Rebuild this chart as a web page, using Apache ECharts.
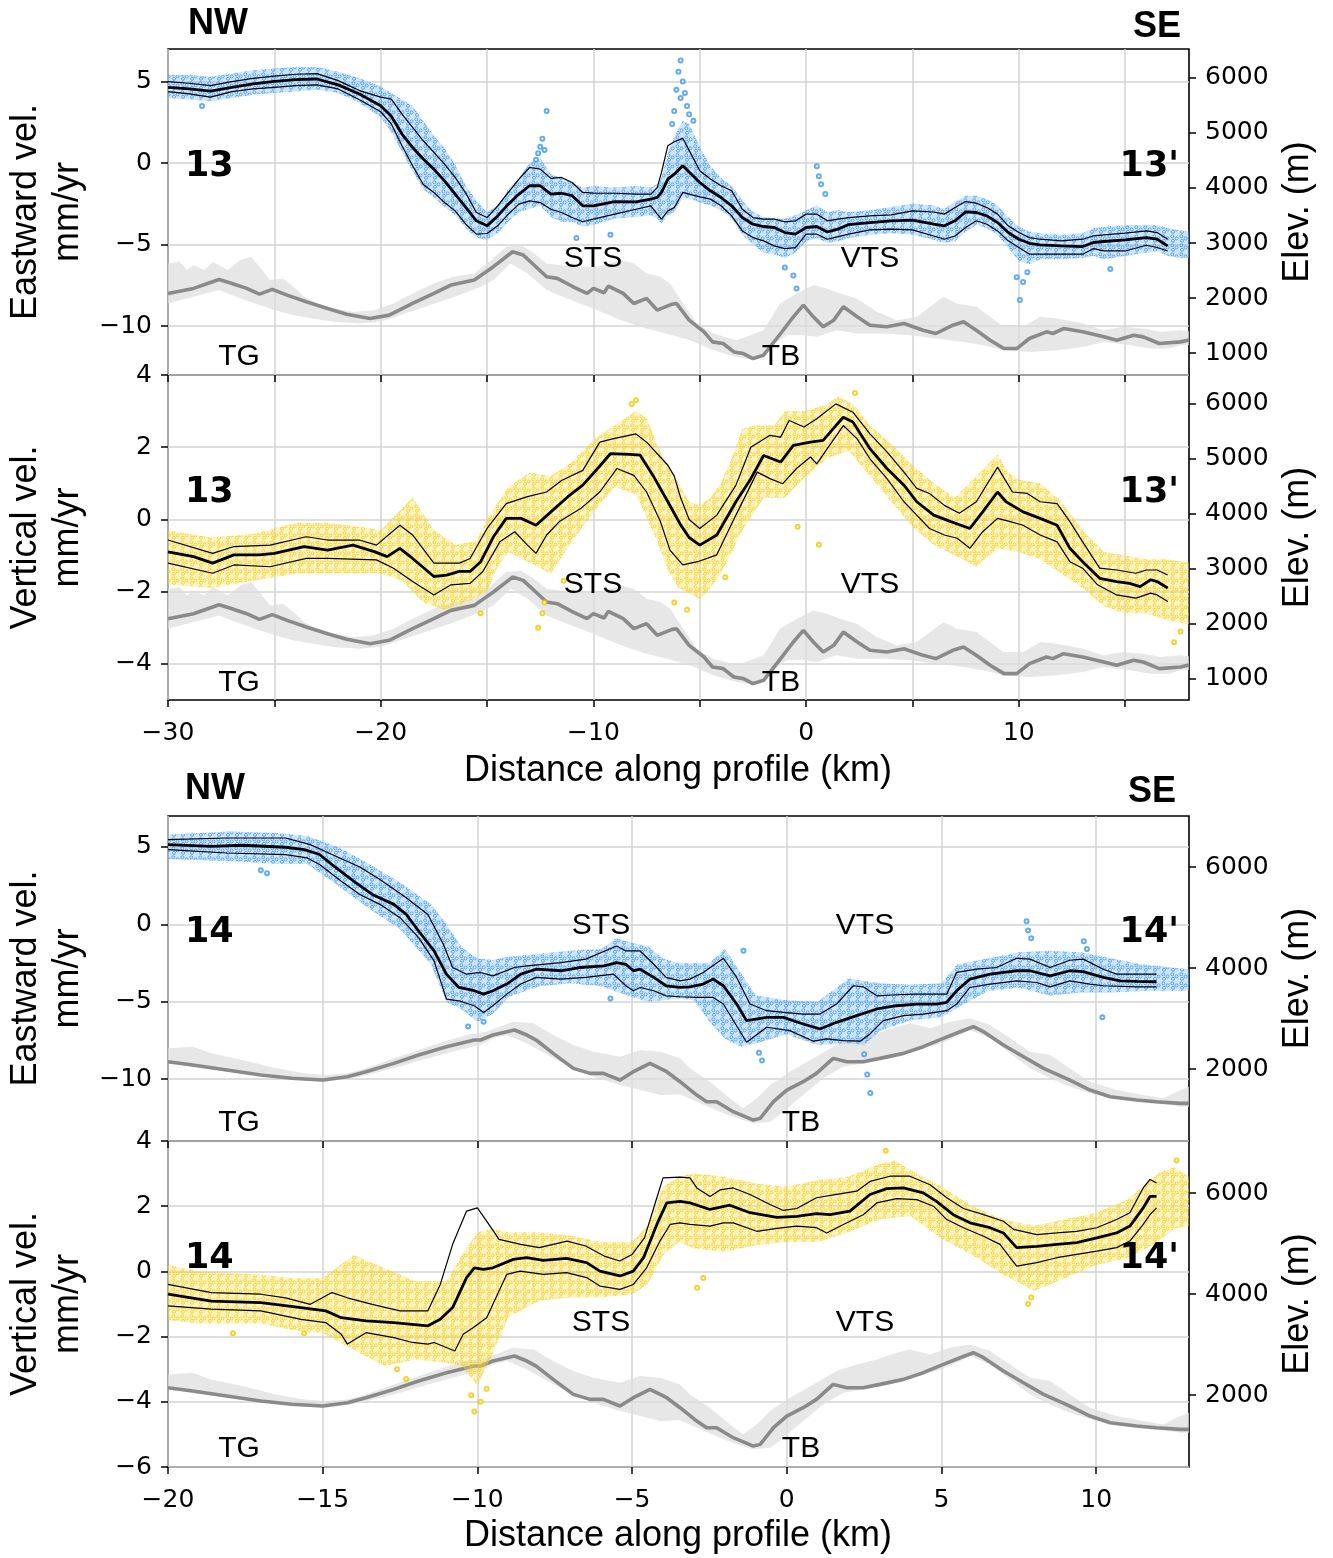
<!DOCTYPE html>
<html><head><meta charset="utf-8">
<script src="https://cdn.jsdelivr.net/npm/echarts@6.0.0/dist/echarts.min.js"></script>
<style>html,body{margin:0;padding:0;background:#fff}#c{width:1333px;height:1558px}</style>
</head><body><div id="c"></div>
<script>
// ---------------- DATA ----------------
const X13_TICKS = [-30,-25,-20,-15,-10,-5,0,5,10,15];
const X13_LABELS = [-30,-20,-10,0,10];
const X14_TICKS = [-20,-15,-10,-5,0,5,10];
const X14_LABELS = [-20,-15,-10,-5,0,5,10];
const Y_E13_TICKS = [-10,-5,0,5];
const Y_V13_TICKS = [-4,-2,0,2,4];
const Y_E14_TICKS = [-10,-5,0,5];
const Y_V14_TICKS = [-6,-4,-2,0,2,4];
const ELEV13_TICKS = [1000,2000,3000,4000,5000,6000];
const ELEV14_TICKS = [2000,4000,6000];

// Panel 1: eastward velocity, profile 13 (mm/yr)
const E13_MEAN = [[-30,4.65],[-29,4.55],[-28,4.42],[-27,4.65],[-26,4.86],[-25,5.02],[-24,5.12],[-23,5.16],[-22,4.8],[-21,4.24],[-20,3.52],[-19.5,2.87],[-19,1.78],[-18.5,0.96],[-18,0.25],[-17.5,-0.37],[-17,-1.09],[-16.5,-1.9],[-16,-2.72],[-15.5,-3.54],[-15,-3.85],[-14.5,-3.24],[-14,-2.52],[-13.5,-1.9],[-13,-1.39],[-12.5,-1.39],[-12,-1.9],[-11.5,-1.85],[-11,-2.0],[-10.5,-2.62],[-10,-2.62],[-9,-2.36],[-8,-2.38],[-7.3,-2.21],[-7,-2.1],[-6.8,-1.8],[-6.5,-0.98],[-6.2,-0.68],[-5.8,-0.16],[-5.5,-0.55],[-5,-1.19],[-4.5,-1.7],[-4,-2.11],[-3.5,-2.62],[-3,-3.34],[-2.5,-3.75],[-2,-3.89],[-1.5,-3.95],[-1,-4.26],[-0.5,-4.36],[0,-3.95],[0.5,-3.89],[1,-4.22],[1.5,-4.05],[2,-3.77],[3,-3.65],[4,-3.54],[5,-3.5],[6,-3.75],[6.5,-3.85],[7,-3.54],[7.5,-2.99],[8,-3.03],[8.5,-3.24],[9,-3.65],[9.5,-4.26],[10,-4.67],[10.5,-4.92],[11,-5.02],[12,-5.08],[13,-5.12],[13.5,-4.87],[14,-4.81],[15,-4.71],[16,-4.57],[16.5,-4.67],[17,-5.08]];
const E13_UP = [[-30,5.0],[-29,4.9],[-28,4.75],[-27,5.0],[-26,5.2],[-25,5.33],[-24,5.45],[-23,5.49],[-22,5.06],[-21,4.45],[-20,4.05],[-19.5,3.93],[-19,3.0],[-18.5,2.19],[-18,1.37],[-17.5,0.66],[-17,-0.06],[-16.5,-0.88],[-16,-1.84],[-15.5,-3.03],[-15,-3.34],[-14.5,-2.62],[-14,-1.8],[-13.5,-0.98],[-13,-0.27],[-12.5,-0.37],[-12,-0.94],[-11.5,-0.88],[-11,-1.19],[-10.5,-1.8],[-10,-1.84],[-9,-1.85],[-8,-1.9],[-7.3,-1.9],[-7,-1.5],[-6.8,-0.57],[-6.5,1.07],[-6.2,1.31],[-5.8,1.52],[-5.5,0.78],[-5,-0.47],[-4.5,-0.98],[-4,-1.39],[-3.5,-1.7],[-3,-2.83],[-2.5,-3.34],[-2,-3.44],[-1.5,-3.44],[-1,-3.6],[-0.5,-3.54],[0,-3.13],[0.5,-3.13],[1,-3.54],[1.5,-3.44],[2,-3.34],[3,-3.24],[4,-3.18],[5,-2.93],[6,-3.0],[6.5,-3.13],[7,-2.73],[7.5,-2.36],[8,-2.46],[8.5,-2.73],[9,-3.13],[9.5,-3.85],[10,-4.26],[10.5,-4.57],[11,-4.67],[12,-4.77],[13,-4.67],[13.5,-4.47],[14,-4.4],[15,-4.3],[16,-4.16],[16.5,-4.26],[17,-4.67]];
const E13_LO = [[-30,4.38],[-29,4.25],[-28,4.05],[-27,4.38],[-26,4.55],[-25,4.65],[-24,4.75],[-23,4.8],[-22,4.55],[-21,3.89],[-20,3.15],[-19.5,2.4],[-19,1.07],[-18.5,-0.16],[-18,-1.31],[-17.5,-1.8],[-17,-2.42],[-16.5,-2.93],[-16,-3.75],[-15.5,-4.36],[-15,-4.32],[-14.5,-3.85],[-14,-3.13],[-13.5,-2.52],[-13,-2.32],[-12.5,-2.42],[-12,-2.83],[-11.5,-3.03],[-11,-3.34],[-10.5,-3.6],[-10,-3.44],[-9,-3.13],[-8,-2.83],[-7.3,-2.62],[-7,-3.13],[-6.8,-3.44],[-6.5,-2.93],[-6.2,-2.73],[-5.8,-1.8],[-5.5,-1.9],[-5,-2.07],[-4.5,-2.21],[-4,-2.62],[-3.5,-3.24],[-3,-4.16],[-2.5,-4.57],[-2,-4.77],[-1.5,-5.08],[-1,-5.25],[-0.5,-5.18],[0,-4.36],[0.5,-4.36],[1,-4.67],[1.5,-4.51],[2,-4.36],[3,-4.1],[4,-4.05],[5,-4.1],[6,-4.47],[6.5,-4.67],[7,-4.47],[7.5,-3.95],[8,-3.54],[8.5,-3.75],[9,-4.16],[9.5,-4.77],[10,-5.18],[10.5,-5.59],[11,-5.59],[12,-5.59],[13,-5.59],[13.5,-5.25],[14,-5.39],[15,-5.39],[16,-5.04],[16.5,-5.18],[17,-5.39]];
const E13_SC_UP = [[-30,5.4],[-29,5.4],[-28,5.3],[-27,5.5],[-26,5.7],[-25,5.8],[-24,5.9],[-23,5.9],[-22,5.6],[-21,5.2],[-20,4.7],[-19.5,4.3],[-19,3.9],[-18.5,3.5],[-18,2.6],[-17.5,1.7],[-17,0.9],[-16.5,-0.1],[-16,-1.4],[-15.5,-2.3],[-15,-3.0],[-14.5,-2.6],[-14,-1.6],[-13.5,-0.9],[-13,0.0],[-12.5,0.3],[-12,-0.7],[-11.5,-0.9],[-11,-1.2],[-10.5,-1.5],[-10,-1.4],[-9,-1.5],[-8,-1.4],[-7.3,-1.5],[-7,-1.3],[-6.8,-0.9],[-6.5,0.6],[-6.2,1.6],[-5.8,2.6],[-5.5,2.4],[-5,1.0],[-4.5,-0.2],[-4,-0.9],[-3.5,-1.4],[-3,-2.3],[-2.5,-3.0],[-2,-3.3],[-1.5,-3.4],[-1,-3.4],[-0.5,-3.2],[0,-2.9],[0.5,-2.6],[1,-3.0],[1.5,-2.9],[2,-3.0],[3,-2.9],[4,-2.7],[5,-2.5],[6,-2.6],[6.5,-2.8],[7,-2.4],[7.5,-2.0],[8,-2.0],[8.5,-2.2],[9,-2.6],[9.5,-3.3],[10,-3.9],[10.5,-4.2],[11,-4.3],[12,-4.4],[13,-4.3],[13.5,-4.0],[14,-3.9],[15,-3.8],[16,-3.8],[16.5,-3.8],[17,-4.0],[17.5,-4.1],[18,-4.2]];
const E13_SC_LO = [[-30,4.0],[-29,3.9],[-28,3.8],[-27,4.0],[-26,4.2],[-25,4.3],[-24,4.4],[-23,4.5],[-22,4.3],[-21,3.7],[-20,2.8],[-19.5,1.9],[-19,0.7],[-18.5,-0.5],[-18,-1.6],[-17.5,-2.1],[-17,-2.7],[-16.5,-3.2],[-16,-4.0],[-15.5,-4.6],[-15,-4.7],[-14.5,-4.3],[-14,-3.6],[-13.5,-3.0],[-13,-2.8],[-12.5,-2.6],[-12,-3.3],[-11.5,-3.6],[-11,-3.6],[-10.5,-3.9],[-10,-3.8],[-9,-3.4],[-8,-3.3],[-7.3,-3.2],[-7,-3.4],[-6.8,-3.7],[-6.5,-3.2],[-6.2,-3.0],[-5.8,-2.1],[-5.5,-2.2],[-5,-2.4],[-4.5,-2.6],[-4,-2.9],[-3.5,-3.4],[-3,-4.4],[-2.5,-5.0],[-2,-5.5],[-1.5,-5.6],[-1,-5.8],[-0.5,-5.5],[0,-4.8],[0.5,-4.6],[1,-4.9],[1.5,-4.8],[2,-4.6],[3,-4.4],[4,-4.3],[5,-4.4],[6,-4.7],[6.5,-4.9],[7,-4.8],[7.5,-4.2],[8,-3.8],[8.5,-4.0],[9,-4.4],[9.5,-5.2],[10,-6.0],[10.5,-6.2],[11,-5.9],[12,-5.9],[13,-5.8],[13.5,-5.7],[14,-5.9],[15,-5.7],[16,-5.5],[16.5,-5.4],[17,-5.7],[17.5,-5.8],[18,-5.8]];
const E13_OUT = [[-12.2,3.2],[-12.4,1.5],[-12.5,1.0],[-12.6,0.6],[-12.3,0.8],[-12.7,0.2],[-5.9,6.3],[-6.0,5.6],[-5.8,5.0],[-6.1,4.5],[-5.9,4.0],[-5.7,4.3],[-5.6,3.5],[-6.2,3.2],[-5.5,3.0],[-6.3,2.4],[-5.3,2.6],[0.5,-0.2],[0.6,-0.8],[0.7,-1.3],[0.9,-1.9],[-0.45,-7.7],[-0.6,-6.9],[-1.0,-6.4],[10.05,-8.4],[10.2,-7.3],[9.9,-7.0],[10.4,-6.7],[14.3,-6.5],[-10.8,-4.6],[-9.2,-4.4],[-28.4,3.5]];

// Panel 2: vertical velocity, profile 13 (mm/yr)
const V13_MEAN = [[-30,-0.9],[-28.8,-1.03],[-27.9,-1.21],[-26.9,-0.98],[-25.7,-0.98],[-25,-0.94],[-23.6,-0.75],[-22.5,-0.85],[-21.3,-0.71],[-20.3,-0.89],[-19.7,-1.03],[-19.1,-0.8],[-18.5,-1.08],[-17.5,-1.58],[-16.9,-1.54],[-16.3,-1.44],[-15.8,-1.44],[-15.3,-1.17],[-14.7,-0.48],[-14.1,0.03],[-13.4,0.03],[-12.7,-0.16],[-12,0.21],[-11.2,0.63],[-10.5,0.95],[-9.8,1.41],[-9.2,1.82],[-8.3,1.8],[-7.8,1.78],[-7.2,1.22],[-6.5,0.49],[-5.9,-0.15],[-5.5,-0.5],[-5,-0.71],[-4.2,-0.43],[-3.3,0.49],[-2.6,1.13],[-2,1.77],[-1.2,1.59],[-0.6,2.05],[0.2,2.14],[0.8,2.19],[1.4,2.6],[1.75,2.83],[2.2,2.7],[3,1.96],[3.8,1.41],[4.6,0.95],[5.2,0.49],[6,0.12],[6.8,-0.06],[7.7,-0.25],[8.3,0.21],[9,0.76],[9.4,0.49],[10.2,0.21],[11,0.03],[11.8,-0.16],[12.4,-0.8],[13,-1.17],[13.8,-1.63],[14.6,-1.72],[15.2,-1.77],[15.7,-1.86],[16.2,-1.67],[16.5,-1.72],[17,-1.9]];
const V13_UP = [[-30,-0.57],[-27.9,-0.94],[-26.9,-0.75],[-25.2,-0.71],[-23.5,-0.48],[-22.5,-0.57],[-21,-0.57],[-20.2,-0.71],[-19.1,-0.16],[-18.5,-0.43],[-17.5,-1.21],[-16.3,-1.21],[-15.8,-1.08],[-15,-0.25],[-14.1,0.44],[-13.1,0.63],[-12.2,0.76],[-11.5,1.08],[-10.5,1.36],[-9.7,2.14],[-9.1,2.23],[-8,2.37],[-7.5,2.14],[-6.5,1.5],[-6.2,1.2],[-5.9,0.6],[-5.5,0.0],[-5,-0.25],[-4.2,0.12],[-3.3,0.95],[-2.6,2.0],[-1.7,2.33],[-1.2,2.28],[-0.8,2.74],[-0.1,2.56],[0.5,2.79],[1.4,3.2],[2.2,2.97],[3,2.37],[3.8,1.87],[4.6,1.31],[5.2,0.86],[5.8,0.72],[6.5,0.39],[7.2,0.17],[8,0.49],[9,1.45],[9.7,0.76],[10.4,0.72],[11,0.49],[11.8,0.44],[12.4,-0.06],[13,-0.62],[13.8,-1.35],[14.6,-1.4],[15.5,-1.49],[16,-1.4],[16.5,-1.4],[17,-1.54]];
const V13_LO = [[-30,-1.21],[-27.9,-1.49],[-26.9,-1.26],[-25.2,-1.31],[-23.5,-1.08],[-22.5,-1.08],[-20.2,-1.12],[-19.4,-1.35],[-18.5,-1.72],[-17.5,-2.09],[-16.7,-1.81],[-15.8,-1.77],[-15.2,-1.44],[-14.4,-0.62],[-13.7,-0.34],[-13.1,-0.71],[-12.7,-0.94],[-12.2,-0.43],[-11.6,-0.06],[-10.6,0.3],[-9.7,0.76],[-8.9,1.41],[-8.1,1.22],[-7.5,0.76],[-6.85,-0.06],[-6.4,-0.85],[-5.8,-1.26],[-5.1,-1.17],[-4.2,-0.98],[-3.3,0.12],[-2.3,1.31],[-1.7,1.13],[-1.1,0.99],[-0.45,1.41],[0.2,1.73],[0.5,1.54],[1.1,2.05],[1.75,2.6],[2.4,2.23],[3,1.68],[3.8,1.13],[4.6,0.49],[5.2,0.12],[5.8,-0.25],[6.5,-0.43],[7.1,-0.52],[7.7,-0.8],[8.3,-0.34],[9,0.03],[9.6,-0.06],[10.2,-0.16],[11,-0.43],[11.8,-0.62],[12.4,-1.17],[13,-1.35],[13.7,-1.81],[14.6,-2.09],[15.5,-2.18],[16.2,-2.04],[16.5,-2.09],[17,-2.27]];
const V13_SC_UP = [[-30,-0.3],[-28,-0.5],[-26,-0.4],[-24,-0.1],[-22.5,-0.1],[-21,-0.2],[-20,-0.3],[-19,0.3],[-18.5,0.6],[-17.5,-0.3],[-16.5,-0.7],[-15.5,-0.6],[-15,0.0],[-14,0.9],[-13,1.3],[-12,1.2],[-11,1.6],[-10,2.2],[-9,2.6],[-8,3.0],[-7.5,2.8],[-6.8,1.8],[-6.2,1.2],[-5.5,0.5],[-5,0.4],[-4.5,0.6],[-4,1.0],[-3.5,1.7],[-3,2.5],[-2.5,2.6],[-1.5,2.6],[-1,3.0],[0,3.0],[1,3.2],[1.5,3.4],[2.2,3.2],[3,2.6],[4,2.1],[5,1.5],[6,1.0],[7,0.6],[8,1.2],[9,1.8],[9.5,1.3],[10,1.1],[11,1.0],[12,0.5],[13,-0.3],[14,-0.9],[15,-1.0],[16,-1.1],[17,-1.1],[18,-1.2]];
const V13_SC_LO = [[-30,-1.8],[-28,-1.9],[-26,-1.7],[-24,-1.5],[-22,-1.5],[-20,-1.5],[-19,-1.7],[-18,-2.3],[-17,-2.5],[-16,-2.3],[-15,-2.0],[-14.5,-1.3],[-14,-0.9],[-13,-1.2],[-12,-1.5],[-11,-0.6],[-10,0.2],[-9,0.9],[-8,0.7],[-7,-0.6],[-6.5,-1.4],[-6,-1.9],[-5,-2.2],[-4.5,-1.9],[-4,-1.5],[-3,-0.3],[-2,0.6],[-1,0.6],[0,1.2],[1,1.7],[2,1.9],[3,1.2],[4,0.5],[5,-0.2],[6,-0.7],[7,-1.0],[8,-1.3],[9,-0.8],[10,-0.9],[11,-1.1],[12,-1.5],[13,-1.9],[14,-2.4],[15,-2.6],[16,-2.6],[17,-2.8],[18,-2.9]];
const V13_OUT = [[-15.3,-2.6],[-12.4,-2.6],[-12.6,-3.0],[-12.3,-2.3],[-8.2,3.2],[-8.0,3.3],[2.3,3.5],[17.3,-3.4],[17.6,-3.1],[-3.8,-1.6],[-0.4,-0.2],[0.6,-0.7],[-11.4,-1.7],[-6.2,-2.3],[-5.6,-2.5]];

// Elevation along profile 13 (m): mean, max, min
const H13_MEAN = [[-30,2085],[-28.8,2176],[-27.6,2339],[-27.1,2279],[-26.3,2176],[-25.7,2073],[-25.1,2158],[-24.4,2055],[-23.5,1933],[-22.5,1812],[-21.6,1709],[-20.5,1630],[-19.6,1691],[-18.5,1903],[-17.5,2085],[-16.7,2236],[-15.6,2327],[-14.7,2570],[-13.8,2842],[-13.3,2782],[-12.2,2388],[-11.7,2358],[-10.95,2206],[-10.3,2085],[-10,2176],[-9.5,2097],[-9.3,2218],[-8.6,2085],[-8.1,1903],[-7.5,1994],[-7,1782],[-6.3,1890],[-6.1,1903],[-5.5,1600],[-4.8,1388],[-4.4,1206],[-3.9,1176],[-3.4,1024],[-2.95,994],[-2.5,903],[-2,964],[-1.2,1358],[-0.6,1661],[-0.13,1873],[0.34,1661],[0.8,1479],[1.3,1600],[1.75,1842],[2.4,1661],[3,1509],[3.8,1479],[4.6,1539],[5.5,1418],[6.1,1358],[6.9,1509],[7.4,1570],[8,1418],[8.65,1236],[9.3,1085],[9.9,1085],[10.5,1267],[11.3,1388],[11.6,1358],[12.1,1448],[13,1388],[14,1297],[14.6,1236],[15.4,1327],[15.85,1297],[16.6,1176],[17.6,1206],[18,1240]];
const H13_MAX = [[-30,2630],[-29.45,2660],[-29.1,2509],[-28.8,2600],[-28.3,2509],[-27.9,2660],[-27.2,2509],[-26.6,2691],[-26.1,2751],[-25.7,2570],[-25.2,2327],[-24.6,2358],[-24.1,2206],[-23.6,2024],[-23,1903],[-22.2,1812],[-21.3,1751],[-20.3,1782],[-19.4,1903],[-18.5,2085],[-17.5,2267],[-16.6,2388],[-15.6,2448],[-14.8,2691],[-14.1,2933],[-13.4,2964],[-12.8,2812],[-12.2,2630],[-10.9,2570],[-9.8,2570],[-8.7,2691],[-8.1,2630],[-7.5,2448],[-6.85,2388],[-6.4,2267],[-5.77,1903],[-5.14,1539],[-4.36,1358],[-3.26,1236],[-2,1418],[-1.23,1903],[-0.44,2085],[0.34,2236],[0.97,2176],[1.6,2085],[2.38,1994],[3.32,1751],[4.26,1600],[5.2,1661],[5.83,1842],[6.46,2024],[7.08,1903],[8.02,1842],[8.65,1661],[9.27,1479],[10.22,1479],[11,1661],[11.78,1630],[13.03,1539],[13.97,1418],[14.91,1479],[15.85,1448],[16.64,1388],[17.58,1418],[18,1400]];
const H13_MIN = [[-30,1903],[-28.8,2024],[-27.6,2145],[-26.8,2024],[-25.7,1873],[-24.7,1751],[-24.1,1691],[-23.2,1630],[-22.2,1570],[-21,1539],[-20,1570],[-19.1,1691],[-18.15,1812],[-17.2,1933],[-16.3,2055],[-15.3,2206],[-14.7,2327],[-13.9,2630],[-13.1,2448],[-12.2,2145],[-11.24,1994],[-10,1812],[-8.7,1600],[-7.5,1448],[-6.5,1350],[-5.46,1236],[-4.36,1055],[-3.26,933],[-2.48,880],[-1.7,1115],[-0.91,1327],[-0.13,1327],[0.5,1297],[1.44,1418],[2.38,1358],[3.63,1358],[4.89,1327],[6.14,1267],[7.39,1206],[8.33,1145],[9.27,1055],[10.53,1024],[11.78,1055],[13.03,1115],[13.97,1206],[15.23,1145],[16.17,1085],[17.1,1085],[17.58,1145],[18,1150]];

// Panel 3: eastward velocity, profile 14 (mm/yr)
const E14_MEAN = [[-20,5.15],[-18.6,5.04],[-17.6,5.11],[-16.2,4.98],[-15.6,4.83],[-15.1,4.51],[-14.7,3.86],[-14,2.79],[-13.4,1.93],[-12.7,1.29],[-12.3,0.64],[-11.9,-0.43],[-11.4,-1.72],[-11,-3.22],[-10.6,-4.08],[-10.1,-4.29],[-9.8,-4.51],[-9.5,-4.29],[-9.05,-3.86],[-8.6,-3.22],[-8.1,-2.9],[-7.3,-3.0],[-6.7,-2.79],[-5.9,-2.68],[-5.5,-2.47],[-5.2,-2.58],[-4.96,-3.0],[-4.74,-2.9],[-4.3,-3.43],[-3.9,-3.97],[-3.45,-4.08],[-3.13,-4.04],[-2.7,-3.86],[-2.38,-3.54],[-2.05,-3.97],[-1.62,-5.15],[-1.3,-6.22],[-0.65,-6.01],[-0.11,-6.01],[0.53,-6.44],[1.07,-6.76],[1.61,-6.33],[2.26,-5.9],[2.91,-5.47],[3.55,-5.26],[4.2,-5.15],[4.84,-5.15],[5.17,-5.04],[5.49,-4.29],[5.92,-3.54],[6.57,-3.22],[7.43,-3.0],[7.86,-3.0],[8.51,-3.33],[9.15,-3.0],[9.58,-3.05],[10.23,-3.43],[10.77,-3.65],[11.31,-3.69],[11.95,-3.71]];
const E14_UP = [[-20,5.47],[-18.1,5.58],[-16.2,5.58],[-15.4,5.15],[-14.7,4.51],[-13.8,3.7],[-13.15,2.9],[-12.3,1.72],[-11.6,0.64],[-11.1,-1.29],[-10.8,-2.79],[-10.35,-3.22],[-9.9,-3.11],[-9.5,-3.33],[-8.8,-2.79],[-8.4,-2.68],[-7.3,-2.47],[-6.5,-2.25],[-5.5,-1.4],[-5.2,-1.72],[-4.74,-1.72],[-4.3,-2.58],[-3.9,-3.43],[-3.45,-3.65],[-3.13,-3.54],[-2.7,-3.11],[-2.05,-2.19],[-1.62,-3.43],[-1.19,-5.15],[-0.65,-5.58],[-0.11,-5.69],[0.53,-5.8],[1.07,-5.8],[1.61,-5.15],[2.15,-3.97],[2.47,-4.04],[2.91,-4.62],[3.55,-4.55],[4.2,-4.51],[5.17,-4.51],[5.49,-3.11],[6.14,-2.9],[6.78,-2.79],[7.43,-2.19],[7.86,-2.25],[8.51,-2.79],[9.15,-2.32],[9.58,-2.25],[10.23,-2.9],[10.66,-3.22],[11.31,-3.22],[11.95,-3.22]];
const E14_LO = [[-20,4.83],[-18.1,4.61],[-16.2,4.51],[-15.5,4.29],[-15.1,3.86],[-14.4,2.79],[-13.8,1.93],[-13.15,1.29],[-12.5,0.43],[-11.9,-0.86],[-11.4,-2.36],[-11,-4.83],[-10.6,-4.94],[-10.1,-5.26],[-9.8,-5.69],[-9.5,-5.26],[-9.05,-4.51],[-8.6,-3.86],[-8.1,-3.43],[-7.3,-3.54],[-6.5,-3.43],[-5.6,-3.22],[-5.2,-3.97],[-4.96,-4.29],[-4.74,-4.08],[-4.3,-4.29],[-3.9,-4.62],[-3.45,-4.68],[-2.91,-4.72],[-2.38,-4.72],[-2.05,-5.15],[-1.3,-7.62],[-0.65,-6.65],[0.1,-6.87],[0.86,-7.55],[1.29,-7.4],[1.83,-7.51],[2.37,-7.55],[2.69,-7.08],[3.12,-6.22],[3.77,-5.9],[4.41,-5.8],[5.17,-5.58],[5.49,-5.15],[5.92,-4.08],[6.57,-3.86],[7.43,-3.65],[8.08,-3.76],[8.51,-4.04],[9.15,-3.65],[9.8,-3.86],[10.23,-3.97],[11.31,-4.04],[11.95,-4.04]];
const E14_SC_UP = [[-20,5.8],[-18,6.0],[-16.5,5.9],[-15.5,5.7],[-14.5,5.0],[-13.5,3.9],[-12.5,2.7],[-11.5,1.3],[-11,0.0],[-10.5,-1.5],[-10,-2.2],[-9.5,-2.3],[-9,-2.1],[-8,-1.9],[-7,-1.7],[-6,-1.6],[-5.5,-0.9],[-5,-1.2],[-4.5,-1.4],[-4,-2.2],[-3.5,-2.5],[-2.5,-2.5],[-2,-1.6],[-1.5,-3.1],[-1,-4.6],[0,-4.9],[1,-5.0],[2,-3.5],[3,-3.8],[4,-3.9],[5,-3.8],[5.5,-2.6],[6.5,-2.2],[7.5,-1.8],[8.5,-1.7],[9.5,-1.8],[10.5,-2.2],[11.5,-2.6],[12.5,-2.8],[13,-2.9]];
const E14_SC_LO = [[-20,4.2],[-18,4.1],[-16.5,3.9],[-15.5,3.9],[-14.5,2.5],[-13.5,1.0],[-12.5,-0.3],[-11.5,-2.6],[-11,-5.0],[-10.5,-5.5],[-10,-6.3],[-9.5,-5.8],[-9,-4.7],[-8,-4.0],[-7,-3.8],[-6,-4.0],[-5,-4.7],[-4.5,-5.0],[-4,-4.9],[-3.5,-4.8],[-3,-4.9],[-2.5,-6.3],[-2,-7.4],[-1.5,-7.9],[-1,-7.7],[0,-7.1],[1,-7.8],[2,-7.7],[2.5,-7.8],[3,-6.9],[4,-6.2],[5,-6.0],[5.5,-5.4],[6.5,-4.3],[7.5,-4.1],[8.5,-4.6],[9.5,-4.4],[10.5,-4.4],[11.5,-4.3],[12.5,-4.3],[13,-4.3]];
const E14_OUT = [[-16.8,3.3],[-17,3.5],[-10.3,-6.6],[-9.8,-6.3],[-0.8,-8.8],[-0.9,-8.3],[-1.4,-1.7],[2.5,-8.4],[2.6,-9.7],[2.7,-10.9],[7.75,0.2],[7.8,-0.4],[7.9,-0.9],[9.6,-1.1],[9.7,-1.6],[10.2,-6.0],[-5.7,-4.8]];

// Panel 4: vertical velocity, profile 14 (mm/yr)
const V14_MEAN = [[-20,-0.7],[-18.6,-0.91],[-17,-0.96],[-15.7,-1.11],[-14.9,-1.21],[-14.4,-1.42],[-13.6,-1.52],[-12.7,-1.57],[-11.6,-1.67],[-11.2,-1.47],[-10.8,-1.11],[-10.35,-0.19],[-10.1,0.11],[-9.8,0.06],[-9.5,0.11],[-8.84,0.37],[-8.41,0.42],[-7.87,0.34],[-7.12,0.4],[-6.47,0.27],[-6.04,0.01],[-5.39,-0.14],[-4.96,0.01],[-4.63,0.42],[-4.2,1.44],[-3.88,2.1],[-3.45,2.15],[-3.13,2.1],[-2.48,1.9],[-1.84,2.03],[-1.19,1.8],[-0.32,1.66],[0.32,1.69],[0.96,1.77],[1.4,1.74],[2.04,1.85],[2.69,2.36],[3.23,2.54],[3.77,2.56],[4.41,2.41],[4.84,2.15],[5.38,1.74],[5.92,1.49],[6.57,1.34],[7,1.18],[7.43,0.73],[8.08,0.77],[8.73,0.83],[9.37,0.88],[10.02,1.03],[10.66,1.18],[11.09,1.39],[11.52,1.95],[11.74,2.3],[11.95,2.3]];
const V14_UP = [[-20,-0.4],[-18.6,-0.65],[-17,-0.7],[-16.2,-0.81],[-15.4,-1.01],[-14.7,-0.65],[-14.2,-0.81],[-13.4,-1.01],[-12.5,-1.21],[-11.6,-1.21],[-11.2,-0.4],[-10.8,0.83],[-10.35,1.85],[-10,1.95],[-9.7,1.54],[-9.3,0.98],[-8.6,0.83],[-8,0.73],[-7.1,0.93],[-6.5,0.78],[-5.9,0.47],[-5.4,0.32],[-5,0.52],[-4.6,1.03],[-4.2,2.26],[-4,2.87],[-3.45,2.89],[-3.13,2.87],[-2.91,2.56],[-2.48,2.3],[-2.16,2.5],[-1.73,2.56],[-1.19,2.36],[-0.54,2.05],[-0.11,1.87],[0.32,1.93],[0.96,2.26],[1.61,2.36],[2.26,2.46],[2.69,2.76],[3.34,2.92],[3.98,2.92],[4.63,2.66],[5.17,2.26],[5.71,1.93],[6.36,1.74],[7,1.54],[7.33,1.29],[8.08,1.13],[8.73,1.18],[9.37,1.23],[10.02,1.34],[10.66,1.59],[11.09,1.8],[11.52,2.56],[11.74,2.82],[11.95,2.71]];
const V14_LO = [[-20,-1.06],[-18.6,-1.16],[-17,-1.21],[-15.7,-1.47],[-14.9,-1.57],[-14.4,-1.93],[-14.2,-2.23],[-13.6,-1.88],[-12.7,-2.03],[-12.1,-2.18],[-11.6,-2.23],[-11.4,-2.18],[-10.73,-2.44],[-10.46,-1.93],[-10.13,-1.72],[-9.7,-1.42],[-9.05,-0.09],[-8.62,0.01],[-7.87,-0.09],[-7.12,-0.04],[-6.47,-0.19],[-6.04,-0.45],[-5.39,-0.55],[-4.96,-0.4],[-4.53,0.11],[-4.1,0.93],[-3.77,1.44],[-3.45,1.49],[-3.13,1.44],[-2.48,1.39],[-2.05,1.49],[-1.73,1.49],[-0.97,1.23],[-0.32,1.32],[0.32,1.39],[0.96,1.34],[1.29,1.18],[1.83,1.44],[2.47,1.74],[2.91,2.1],[3.55,2.23],[4.2,2.2],[4.74,2.0],[5.17,1.59],[5.71,1.34],[6.36,1.08],[6.89,0.83],[7.43,0.16],[8.08,0.27],[8.73,0.42],[9.37,0.52],[10.02,0.62],[10.66,0.73],[11.09,0.93],[11.52,1.44],[11.74,1.74],[11.95,1.95]];
const V14_SC_UP = [[-20,0.2],[-19,0.0],[-17,-0.1],[-16,-0.2],[-15,-0.2],[-14,0.5],[-13.5,0.3],[-13,0.1],[-12,-0.3],[-11,-0.3],[-10.5,0.5],[-10,1.2],[-9.5,1.3],[-9,1.2],[-8,1.2],[-7,1.1],[-6,0.9],[-5,0.9],[-4.5,1.4],[-4,2.6],[-3.5,2.9],[-3,3.0],[-2,2.9],[-1,2.7],[0,2.6],[1,2.8],[2,2.9],[3,3.3],[3.5,3.4],[4,3.1],[5,2.6],[6,2.0],[7,1.6],[8,1.4],[9,1.6],[10,1.8],[11,2.2],[12,3.0],[12.5,3.2],[13,2.9]];
const V14_SC_LO = [[-20,-1.5],[-19,-1.6],[-17,-1.6],[-16,-1.8],[-15,-1.9],[-14,-2.4],[-13,-2.9],[-12,-2.7],[-11,-2.8],[-10.5,-2.9],[-10,-3.5],[-9.5,-2.5],[-9,-1.4],[-8,-0.9],[-7,-0.8],[-6,-0.8],[-5,-0.7],[-4.5,-0.4],[-4,0.5],[-3.5,0.9],[-3,0.7],[-2,0.6],[-1,0.8],[0,0.9],[1,0.9],[2,1.2],[3,1.6],[4,1.7],[5,1.0],[6,0.5],[7,-0.1],[8,-0.6],[9,-0.2],[10,0.2],[11,0.4],[12,0.9],[12.5,1.3],[13,1.4]];
const V14_OUT = [[-10.1,-4.3],[-9.9,-4.0],[-10.2,-3.8],[-9.7,-3.6],[-12.3,-3.3],[-12.6,-3.0],[-15.6,-1.9],[-2.7,-0.2],[-2.9,-0.5],[7.8,-1.0],[7.9,-0.8],[3.2,3.7],[12.6,3.4],[-17.9,-1.9]];

// Elevation along profile 14 (m)
const H14_MEAN = [[-20,2145],[-19.2,2079],[-18.1,1980],[-17,1881],[-16,1816],[-15,1782],[-14.2,1848],[-13.6,1947],[-12.7,2112],[-11.9,2277],[-11,2442],[-10.1,2574],[-9.9,2574],[-9.5,2673],[-8.8,2772],[-8.4,2673],[-8.1,2574],[-7.55,2310],[-6.9,2013],[-6.36,1914],[-5.93,1914],[-5.39,1782],[-4.96,1947],[-4.42,2112],[-3.88,1947],[-3.45,1749],[-2.91,1485],[-2.59,1353],[-2.27,1353],[-1.73,1155],[-1.08,990],[-0.86,1023],[-0.43,1353],[0,1584],[0.53,1749],[0.96,1914],[1.5,2211],[1.94,2145],[2.47,2145],[3.01,2211],[3.77,2310],[4.41,2442],[5.06,2607],[5.6,2739],[6.03,2838],[6.36,2739],[7,2475],[7.65,2244],[8.3,2013],[9.15,1782],[9.8,1584],[10.45,1452],[11.31,1386],[11.95,1353],[12.71,1320],[13,1320]];
const H14_MAX = [[-20,2409],[-19.2,2442],[-18.6,2310],[-17.6,2178],[-16.5,2013],[-15.6,1914],[-14.9,1881],[-14.2,1914],[-13.6,2013],[-12.7,2211],[-11.9,2376],[-11.1,2541],[-10.35,2673],[-9.7,2739],[-8.84,2937],[-8.19,2904],[-7.55,2673],[-6.9,2475],[-6.25,2343],[-5.39,2244],[-4.74,2376],[-4.1,2343],[-3.45,2211],[-3.13,2013],[-2.48,1749],[-1.84,1419],[-1.41,1221],[-0.97,1419],[-0.54,1683],[0.1,1947],[0.86,2211],[1.61,2475],[2.26,2607],[2.91,2706],[3.55,2838],[3.98,2904],[4.63,2805],[5.27,2937],[5.92,3003],[6.57,2871],[7.22,2607],[7.86,2343],[8.51,2277],[9.15,2013],[9.8,1749],[10.66,1584],[11.52,1485],[12.17,1419],[12.6,1551],[13,1650]];
const H14_MIN = [[-20,2112],[-18.1,1947],[-15.95,1782],[-14.9,1749],[-13.8,1848],[-12.7,2013],[-11.6,2211],[-10.6,2376],[-9.9,2475],[-9.5,2607],[-9.05,2673],[-8.41,2508],[-7.33,2145],[-6.25,1848],[-5.39,1683],[-4.74,1584],[-4.1,1485],[-3.45,1500],[-2.91,1350],[-2.16,1155],[-1.62,1023],[-1.08,924],[-0.54,957],[-0.11,1155],[0.53,1485],[1.18,1815],[1.83,2046],[2.47,2112],[3.34,2211],[4.2,2376],[4.84,2475],[5.49,2640],[5.92,2772],[6.57,2607],[7.22,2310],[7.86,2013],[8.51,1815],[9.15,1650],[10.01,1485],[10.88,1386],[11.74,1320],[12.39,1287],[12.71,1254],[13,1254]];

// ---------------- CHART ----------------
function makeTile(bg, fg) {
  const c = document.createElement('canvas'); c.width = 9; c.height = 9;
  const g = c.getContext('2d');
  g.fillStyle = bg; g.fillRect(0, 0, 9, 9);
  g.strokeStyle = fg; g.lineWidth = 0.8;
  [[2.3,2.3],[6.6,4.4],[3.0,6.8]].forEach(p => { g.beginPath(); g.arc(p[0], p[1], 1.5, 0, Math.PI*2); g.stroke(); });
  return c;
}
const BLUE_TILE = makeTile('rgba(130,190,245,0.40)', '#3d97ea');
const YEL_TILE = makeTile('rgba(252,225,90,0.36)', '#f2cb10');

const fmt = v => (v < 0 ? '\u2212' + Math.abs(v) : String(v));
const LBL = {fontFamily: 'DejaVu Sans', fontSize: 25, color: '#000'};
const tick = vals => ({show: true, inside: false, length: 7, lineStyle: {color: '#000', width: 1.5}, customValues: vals});
const split = {show: true, lineStyle: {color: '#d3d3d3', width: 1.5}};
const noLine = {show: false, onZero: false};

const GRIDS = [
  {left: 168, top: 49, width: 1021, height: 326},
  {left: 168, top: 375, width: 1021, height: 325},
  {left: 168, top: 816, width: 1021, height: 325},
  {left: 168, top: 1141, width: 1021, height: 326}
];
const PANELS = [
  {xr: [-30, 18], xt: X13_TICKS, xl: X13_LABELS, showX: false, yr: [-13, 7], yt: Y_E13_TICKS, hr: [605, 6520], ht: ELEV13_TICKS,
   mean: E13_MEAN, up: E13_UP, lo: E13_LO, su: E13_SC_UP, sl: E13_SC_LO, out: E13_OUT, hm: H13_MEAN, hx: H13_MAX, hn: H13_MIN, tile: BLUE_TILE, dot: '#3d97ea'},
  {xr: [-30, 18], xt: X13_TICKS, xl: X13_LABELS, showX: true, yr: [-5, 4], yt: Y_V13_TICKS, hr: [605, 6520], ht: ELEV13_TICKS,
   mean: V13_MEAN, up: V13_UP, lo: V13_LO, su: V13_SC_UP, sl: V13_SC_LO, out: V13_OUT, hm: H13_MEAN, hx: H13_MAX, hn: H13_MIN, tile: YEL_TILE, dot: '#f0c800'},
  {xr: [-20, 13], xt: X14_TICKS, xl: X14_LABELS, showX: false, yr: [-14, 7], yt: Y_E14_TICKS, hr: [575, 7010], ht: ELEV14_TICKS,
   mean: E14_MEAN, up: E14_UP, lo: E14_LO, su: E14_SC_UP, sl: E14_SC_LO, out: E14_OUT, hm: H14_MEAN, hx: H14_MAX, hn: H14_MIN, tile: BLUE_TILE, dot: '#3d97ea'},
  {xr: [-20, 13], xt: X14_TICKS, xl: X14_LABELS, showX: true, yr: [-6, 4], yt: Y_V14_TICKS, hr: [575, 7030], ht: ELEV14_TICKS,
   mean: V14_MEAN, up: V14_UP, lo: V14_LO, su: V14_SC_UP, sl: V14_SC_LO, out: V14_OUT, hm: H14_MEAN, hx: H14_MAX, hn: H14_MIN, tile: YEL_TILE, dot: '#f0c800'}
];

const xAxis = [], yAxis = [], series = [];
function poly(xi, yi, up, lo, fill, z) {
  const pts = up.concat(lo.slice().reverse());
  return {type: 'custom', xAxisIndex: xi, yAxisIndex: yi, z, silent: true, clip: true, data: [[pts[0][0], pts[0][1]]],
    renderItem: (params, api) => ({type: 'polygon', shape: {points: pts.map(p => api.coord(p))}, style: {fill: fill, stroke: null}})};
}
function line(xi, yi, data, color, width, z) {
  return {type: 'line', xAxisIndex: xi, yAxisIndex: yi, z, data, showSymbol: false, symbol: 'none', silent: true, clip: true,
    lineStyle: {color, width}, animation: false};
}
PANELS.forEach((p, i) => {
  xAxis.push({type: 'value', gridIndex: i, position: 'bottom', min: p.xr[0], max: p.xr[1],
    axisLine: noLine, axisTick: tick(p.xt),
    axisLabel: Object.assign({show: p.showX, customValues: p.xl, formatter: fmt, margin: 21}, LBL),
    splitLine: split});
  yAxis.push({type: 'value', gridIndex: i, position: 'left', min: p.yr[0], max: p.yr[1],
    axisLine: noLine, axisTick: tick(p.yt),
    axisLabel: Object.assign({customValues: p.yt, formatter: fmt, margin: 16}, LBL),
    splitLine: split});
  yAxis.push({type: 'value', gridIndex: i, position: 'right', min: p.hr[0], max: p.hr[1],
    axisLine: noLine, axisTick: tick(p.ht),
    axisLabel: Object.assign({customValues: p.ht, formatter: fmt, margin: 16}, LBL),
    splitLine: {show: false}});
  const yl = 2 * i, yr = 2 * i + 1;
  series.push(poly(i, yr, p.hx, p.hn, 'rgba(222,222,222,0.72)', 2));
  series.push(line(i, yr, p.hm, '#8a8a8a', 3.6, 3));
  series.push(poly(i, yl, p.su, p.sl, {image: p.tile, repeat: 'repeat'}, 4));
  series.push({type: 'scatter', xAxisIndex: i, yAxisIndex: yl, z: 5, silent: true, data: p.out, symbol: 'emptyCircle', symbolSize: 4,
    itemStyle: {color: p.dot, borderColor: p.dot, borderWidth: 0.8}});
  series.push(line(i, yl, p.up, '#000', 1.2, 6));
  series.push(line(i, yl, p.lo, '#000', 1.2, 6));
  series.push(line(i, yl, p.mean, '#000', 2.8, 7));
});

function T(x, y, text, size, opts) {
  opts = opts || {};
  return {type: 'text', x, y, rotation: opts.rot || 0, z: 100, silent: true,
    style: {text, fill: '#000', fontSize: size, fontWeight: opts.bold ? 'bold' : 'normal',
      fontFamily: opts.family || 'Liberation Sans', align: opts.align || 'center', verticalAlign: 'middle',
      textAlign: opts.align || 'center', textVerticalAlign: 'middle'}};
}
const graphic = [];
const centers = [212, 537.5, 978.5, 1304];
const yTitles = ['Eastward vel.', 'Vertical vel.', 'Eastward vel.', 'Vertical vel.'];
const nums = ['13', '13', '14', '14'];
const labelRows = [
  {sts: [593, 259], vts: [870, 259], tg: [239, 357], tb: [781, 357], num: 167},
  {sts: [593, 585], vts: [870, 585], tg: [239, 683], tb: [781, 683], num: 493},
  {sts: [601, 926], vts: [865, 926], tg: [239, 1123], tb: [801, 1123], num: 933},
  {sts: [601, 1323], vts: [865, 1323], tg: [239, 1449], tb: [801, 1449], num: 1259}
];
centers.forEach((cy, i) => {
  graphic.push(T(26, cy, yTitles[i], 36, {rot: Math.PI / 2}));
  graphic.push(T(68, cy, 'mm/yr', 36, {rot: Math.PI / 2}));
  graphic.push(T(1298, cy, 'Elev. (m)', 36, {rot: Math.PI / 2}));
  const r = labelRows[i];
  graphic.push(T(r.sts[0], r.sts[1], 'STS', 30));
  graphic.push(T(r.vts[0], r.vts[1], 'VTS', 30));
  graphic.push(T(r.tg[0], r.tg[1], 'TG', 30));
  graphic.push(T(r.tb[0], r.tb[1], 'TB', 30));
  graphic.push(T(185, r.num, nums[i], 35, {bold: true, family: 'DejaVu Sans', align: 'left'}));
  graphic.push(T(1179, r.num, nums[i] + "'", 35, {bold: true, family: 'DejaVu Sans', align: 'right'}));
});
graphic.push(T(188, 24, 'NW', 36, {bold: true, align: 'left'}));
graphic.push(T(1181, 27, 'SE', 36, {bold: true, align: 'right'}));
graphic.push(T(185, 789, 'NW', 36, {bold: true, align: 'left'}));
graphic.push(T(1176, 792, 'SE', 36, {bold: true, align: 'right'}));
graphic.push(T(678, 771, 'Distance along profile (km)', 36));
graphic.push(T(678, 1536, 'Distance along profile (km)', 36));

const chart = echarts.init(document.getElementById('c'), null, {renderer: 'canvas', width: 1333, height: 1558});
chart.setOption({
  animation: false,
  backgroundColor: '#fff',
  grid: GRIDS.map(g => Object.assign({show: true, borderColor: '#000', borderWidth: 1.6, backgroundColor: 'transparent', containLabel: false}, g)),
  xAxis, yAxis, series, graphic
});
</script></body></html>
